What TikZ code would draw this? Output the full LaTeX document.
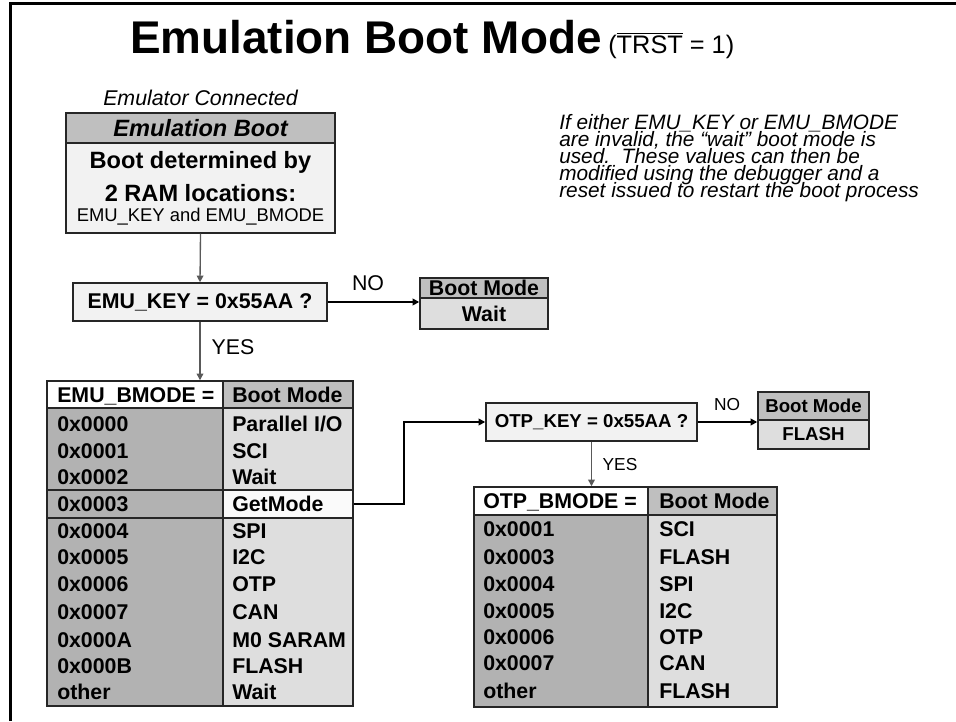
\documentclass[tikz,border=0pt]{standalone}
\usepackage{fontspec}
\setmainfont{Liberation Sans}
\usetikzlibrary{arrows.meta,calc}
\definecolor{boxhead}{gray}{0.75}
\definecolor{boxbody}{gray}{0.95}
\definecolor{coldark}{gray}{0.70}
\definecolor{collight}{gray}{0.87}
\definecolor{cellwhite}{gray}{0.98}
\newcommand{\pxu}{0.75pt}
\newcommand{\tightlines}{\lineskiplimit=-100pt\lineskip=0pt\relax}

\begin{document}
\begin{tikzpicture}[x=0.75pt,y=-0.75pt,
  box/.style={draw=black!85,line width=1.1pt,inner sep=0pt},
  lbl/.style={inner sep=0pt,font=\fontsize{16}{16}\selectfont},
  smalllbl/.style={inner sep=0pt,font=\fontsize{13}{13}\selectfont},
  cell/.style={anchor=west,inner sep=0pt,text height=11.5pt,text depth=0pt,font=\fontsize{16}{16}\selectfont\bfseries},
  flowdown/.style={draw=black!65,line width=1pt,-{Triangle[length=5pt,width=5pt]}},
  flowside/.style={draw=black,line width=1.5pt,-{Triangle[length=5pt,width=5pt]}}]
\useasboundingbox (0,0) rectangle (956,721);
\draw[line width=1.9pt] (10.3,721) -- (10.3,3.5) -- (956,3.5);

% title and note
\node[anchor=base west,inner sep=0pt] (title) at (130,53) {\fontsize{34.4}{34}\selectfont\bfseries Emulation Boot Mode\fontsize{19}{19}\selectfont\mdseries\hspace{5pt}($\overline{\hbox{TRST}}$ = 1)};
\node[anchor=north west,inner sep=0pt,align=left,font=\fontsize{15.6}{12.8}\selectfont\itshape\tightlines] (note) at (559,114) {If either EMU\_KEY or EMU\_BMODE\\are invalid, the “wait” boot mode is\\used.\ \ These values can then be\\modified using the debugger and a\\reset issued to restart the boot process};

% emulation boot box
\node[lbl,font=\fontsize{16}{16}\selectfont\itshape] (emuconn) at (200.5,98) {Emulator Connected};
\node[box,fill=boxhead,minimum width=269*\pxu,minimum height=30*\pxu,font=\fontsize{17.7}{17.7}\selectfont\bfseries\itshape] (emuhdr) at (200.5,128) {Emulation Boot};
\node[box,fill=boxbody,minimum width=269*\pxu,minimum height=90*\pxu] (emuboot) at (200.5,188) {};
\node[lbl,font=\fontsize{17.7}{17.7}\selectfont\bfseries] (emutxt1) at (200.5,162) {Boot determined by};
\node[lbl,font=\fontsize{17.7}{17.7}\selectfont\bfseries] (emutxt2) at (200.5,193) {2 RAM locations:};
\node[lbl,font=\fontsize{13.8}{13.8}\selectfont] (emutxt3) at (200.5,217) {EMU\_KEY and EMU\_BMODE};

% key test
\node[box,fill=boxbody,minimum width=254*\pxu,minimum height=38*\pxu,font=\fontsize{16}{16}\selectfont\bfseries] (emukey) at (200,302) {EMU\_KEY = 0x55AA ?};
\node[box,fill=boxhead,minimum width=128*\pxu,minimum height=20*\pxu,font=\fontsize{16}{16}\selectfont\bfseries] (waithdr) at (484,288) {Boot Mode};
\node[box,fill=collight,minimum width=128*\pxu,minimum height=31*\pxu,font=\fontsize{16}{16}\selectfont\bfseries] (waitbox) at (484,313.5) {Wait};
\node[lbl] (emuno) at (368,283) {NO};
\node[lbl] (emuyes) at (233,347) {YES};

% EMU_BMODE table
\node[box,fill=coldark,minimum width=176*\pxu,minimum height=298*\pxu] (emucolL) at (135,557) {};
\node[box,fill=collight,minimum width=130*\pxu,minimum height=298*\pxu] (emucolR) at (288,557) {};
\node[box,fill=white,minimum width=176*\pxu,minimum height=27*\pxu] (emuhl) at (135,394.5) {};
\node[box,fill=boxhead,minimum width=130*\pxu,minimum height=27*\pxu] (emuhr) at (288,394.5) {};
\node[box,minimum width=306*\pxu,minimum height=28*\pxu] (emurow) at (200,504) {};
\node[box,fill=cellwhite,minimum width=130*\pxu,minimum height=28*\pxu] (getmode) at (288,504) {};
\node[cell] (emuhlt) at (57,394.5) {EMU\_BMODE =};
\node[cell] (emuhrt) at (232,394.5) {Boot Mode};
\foreach \y/\addr/\mode [count=\i] in {424/0x0000/{Parallel I/O},451/0x0001/SCI,477/0x0002/Wait,504/0x0003/GetMode,531/0x0004/SPI,557/0x0005/I2C,584/0x0006/OTP,612/0x0007/CAN,640/0x000A/M0 SARAM,666/0x000B/FLASH,692/other/Wait}{
  \node[cell] (emua\i) at (57,\y) {\addr};
  \node[cell] (emum\i) at (232,\y) {\mode};
}

% OTP key test
\node[box,fill=boxbody,minimum width=211*\pxu,minimum height=38*\pxu,font=\fontsize{14}{14}\selectfont\bfseries] (otpkey) at (591.5,422) {OTP\_KEY = 0x55AA ?};
\node[box,fill=boxhead,minimum width=111*\pxu,minimum height=28*\pxu,font=\fontsize{14}{14}\selectfont\bfseries] (flashhdr) at (813.5,406) {Boot Mode};
\node[box,fill=collight,minimum width=111*\pxu,minimum height=29*\pxu,font=\fontsize{14}{14}\selectfont\bfseries] (flashbox) at (813.5,434.5) {FLASH};
\node[smalllbl] (otpno) at (727,405) {NO};
\node[smalllbl] (otpyes) at (620,465) {YES};

% OTP_BMODE table
\node[box,fill=coldark,minimum width=174*\pxu,minimum height=192*\pxu] (otpcolL) at (561,611) {};
\node[box,fill=collight,minimum width=129*\pxu,minimum height=192*\pxu] (otpcolR) at (712.5,611) {};
\node[box,fill=white,minimum width=174*\pxu,minimum height=28*\pxu] (otphl) at (561,501) {};
\node[box,fill=boxhead,minimum width=129*\pxu,minimum height=28*\pxu] (otphr) at (712.5,501) {};
\node[cell] (otphlt) at (483,501) {OTP\_BMODE =};
\node[cell] (otphrt) at (659,501) {Boot Mode};
\foreach \y/\addr/\mode [count=\i] in {529/0x0001/SCI,557/0x0003/FLASH,584/0x0004/SPI,611/0x0005/I2C,637/0x0006/OTP,663/0x0007/CAN,691/other/FLASH}{
  \node[cell] (otpa\i) at (483,\y) {\addr};
  \node[cell] (otpm\i) at (659,\y) {\mode};
}

% connectors
\draw[flowdown] (emuboot.south) -- (emukey.north);
\draw[flowside] (emukey.east) -- (emukey.east -| waithdr.west);
\draw[flowdown] (emukey.south) -- (emukey.south |- emuhl.north);
\draw[flowside] (getmode.east) -- ++(50,0) |- (otpkey.west);
\draw[flowside] (otpkey.east) -- (otpkey.east -| flashhdr.west);
\draw[flowdown] (otpkey.south) -- (otpkey.south |- otphl.north);
\end{tikzpicture}
\end{document}
